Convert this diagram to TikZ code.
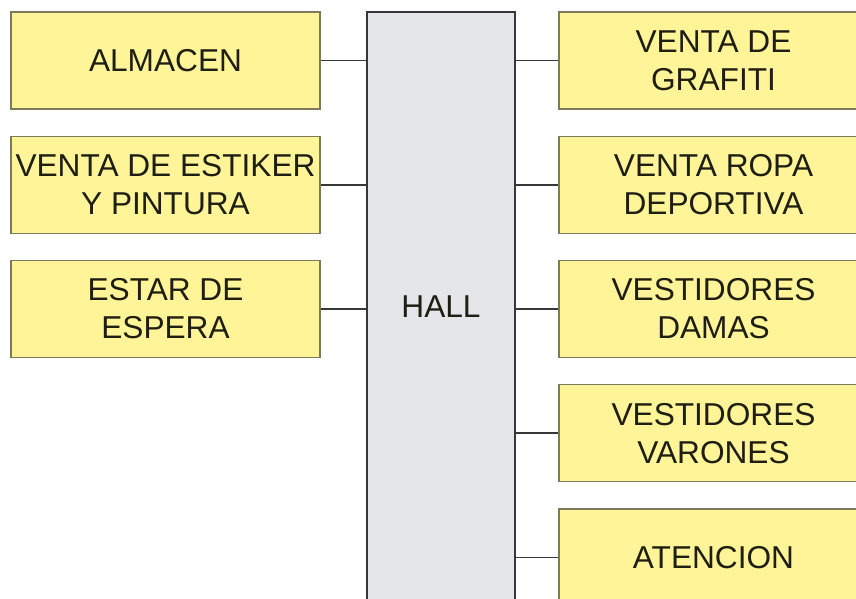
\documentclass[tikz,border=0pt]{standalone}
\usepackage{fontspec}
\setmainfont{Liberation Sans}
\usepackage{tikz}
\usetikzlibrary{positioning, calc}

\definecolor{roomfill}{RGB}{255,244,152}
\definecolor{roomline}{RGB}{125,122,92}
\definecolor{hallfill}{RGB}{229,230,233}
\definecolor{linkgray}{RGB}{55,55,55}
\definecolor{labelink}{RGB}{30,30,18}

\begin{document}
\begin{tikzpicture}[node distance=0.65cm]
        \tikzset{roombox/.style={rectangle, draw=roomline, fill=roomfill, line width=0.9pt, minimum width=7.725cm, minimum height=2.425cm, inner sep=0pt, align=center, text=labelink, font=\fontsize{22.5}{27}\selectfont}}
        \tikzset{hallbox/.style={rectangle, draw=linkgray, fill=hallfill, line width=1.2pt, minimum width=3.7cm, minimum height=14.75cm, inner sep=0pt, text=labelink, font=\fontsize{22.5}{27}\selectfont}}
        \tikzset{link/.style={draw=linkgray, line width=1.2pt}}

        \useasboundingbox (0,0) rectangle (21.4,-14.95);

        % hall in the middle
        \node[hallbox] (hall) at (11.025,-7.675) {HALL};

        % left column
        \node[roombox] (almacen) at (4.1375,-1.5125) {ALMACEN};
        \node[roombox, below=of almacen] (estiker) {VENTA DE ESTIKER\\Y PINTURA};
        \node[roombox, below=of estiker] (espera) {ESTAR DE\\ESPERA};

        % right column
        \node[roombox] (grafiti) at (17.8375,-1.5125) {VENTA DE\\GRAFITI};
        \node[roombox, below=of grafiti] (ropa) {VENTA ROPA\\DEPORTIVA};
        \node[roombox, below=of ropa] (damas) {VESTIDORES\\DAMAS};
        \node[roombox, below=of damas] (varones) {VESTIDORES\\VARONES};
        \node[roombox, below=of varones] (atencion) {ATENCION};

        \foreach \room in {almacen, estiker, espera}
            \draw[link] (\room.east) -- (\room.east -| hall.west);
        \foreach \room in {grafiti, ropa, damas, varones, atencion}
            \draw[link] (\room.west) -- (\room.west -| hall.east);
    \end{tikzpicture}
\end{document}
